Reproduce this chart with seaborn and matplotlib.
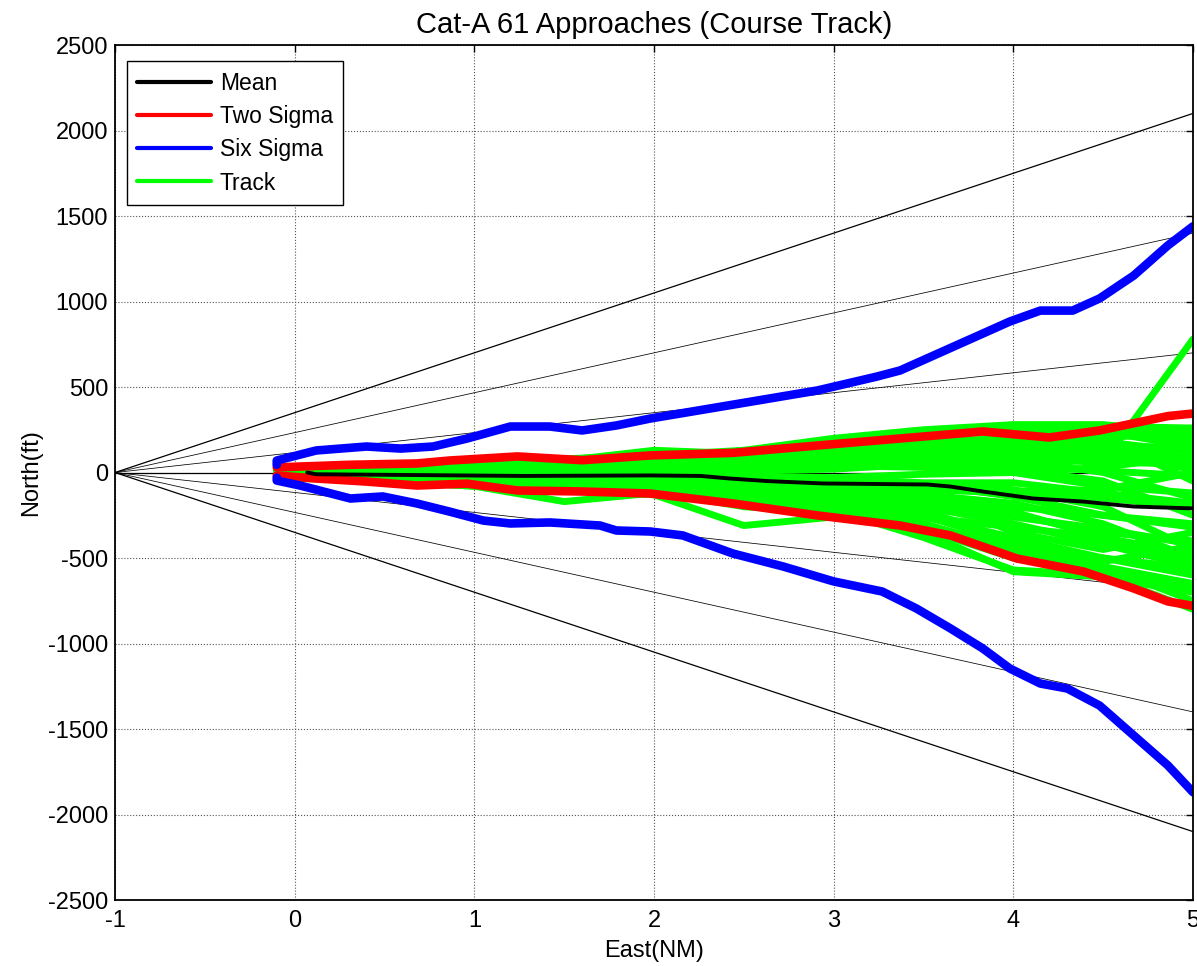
import numpy as np
import pandas as pd
import matplotlib
matplotlib.use("Agg")
import matplotlib.pyplot as plt
from matplotlib.lines import Line2D
import seaborn as sns

# --- data ---
fan_ends = [2100, 1400, 700, 0, -700, -1400, -2100]   # North(ft) at East=5, all from (-1, 0)

mean_x = [0.07, 0.12, 1.27, 1.98, 2.26, 2.42, 2.63, 2.94, 3.52, 3.65, 3.83, 4.11, 4.39, 4.67, 5.0]
mean_y = [0, -10, -20, -17, -20, -35, -50, -64, -70, -82, -111, -152, -170, -199, -210]

two_up_x = [-0.1, 0.3, 0.68, 0.86, 1.24, 1.6, 1.98, 2.44, 2.91, 3.37, 3.83, 4.2, 4.48, 4.86, 5.0]
two_up_y = [30, 45, 53, 70, 94, 72, 100, 115, 158, 199, 240, 205, 246, 330, 345]
two_lo_x = [-0.1, 0.12, 0.40, 0.68, 0.96, 1.24, 1.6, 1.98, 2.44, 2.91, 3.37, 3.65, 4.02, 4.39, 4.67, 4.86, 5.0]
two_lo_y = [-18, -35, -53, -76, -65, -105, -111, -123, -181, -251, -310, -368, -503, -579, -678, -754, -780]

six_up_x = [-0.1, -0.1, 0.12, 0.40, 0.59, 0.77, 0.96, 1.20, 1.42, 1.60, 1.79, 1.98, 2.48, 2.91, 3.24, 3.37,
            3.98, 4.15, 4.33, 4.48, 4.67, 4.86, 5.0]
six_up_y = [45, 70, 129, 152, 140, 152, 199, 269, 269, 246, 275, 316, 404, 480, 561, 597,
            883, 947, 947, 1018, 1152, 1328, 1440]
six_lo_x = [-0.1, -0.1, 0.03, 0.31, 0.49, 0.68, 0.86, 1.05, 1.20, 1.42, 1.70, 1.79, 1.98, 2.16, 2.44, 2.72,
            3.0, 3.27, 3.46, 3.65, 3.83, 3.98, 4.15, 4.30, 4.48, 4.67, 4.86, 5.0]
six_lo_y = [-30, -47, -76, -152, -140, -181, -228, -281, -298, -292, -310, -339, -345, -368, -474, -550,
            -637, -696, -795, -912, -1029, -1146, -1234, -1263, -1363, -1538, -1713, -1870]

track_x = [-0.1, 0.5, 1.0, 1.5, 2.0, 2.5, 3.0, 3.5, 4.0, 4.5, 5.0]
tracks = [
    [20, 40, 60, 80, 100, 130, 200, 250, 280, 280, 230],
    [10, 30, 50, 70, 130, 110, 150, 220, 240, 250, 180],
    [0, 10, 20, 30, 40, 50, 60, 70, 80, 60, 780],
    [5, 20, 40, 60, 80, 100, 150, 180, 200, 220, 200],
    [0, 10, 20, 30, 50, 60, 80, 120, 160, 180, 120],
    [-5, 0, 10, 20, 30, 40, 60, 90, 100, 60, 50],
    [-10, -10, 0, 10, 20, 10, 20, 50, 40, 10, -20],
    [-15, -20, -20, -10, -10, -20, -30, -10, 0, 30, 100],
    [-20, -30, -40, -40, -50, -60, -80, -100, -120, -150, -200],
    [-25, -40, -50, -60, -80, -100, -130, -160, -200, -250, -300],
    [-30, -50, -80, -170, -120, -100, -120, -150, -250, -350, -400],
    [-20, -50, -80, -100, -130, -310, -260, -300, -450, -500, -600],
    [-10, -30, -60, -90, -120, -180, -240, -330, -500, -560, -650],
    [-15, -40, -70, -100, -110, -150, -220, -380, -570, -600, -800],
    [-5, -20, -40, -60, -80, -120, -200, -350, -580, -610, -700],
    [0, -10, -20, -40, -60, -100, -180, -300, -450, -550, -750],
    [10, 20, 30, 40, 60, 80, 100, 120, 80, 0, -150],
    [5, 10, 20, 20, 30, 40, 50, 40, 20, -50, -250],
    [-10, -20, -30, -50, -70, -90, -100, -130, -180, -300, -500],
    [0, 0, -10, -20, -30, -40, -50, -80, -100, -200, -450],
    [15, 30, 40, 50, 60, 80, 120, 150, 180, 150, 80],
    [-20, -30, -50, -70, -90, -110, -150, -200, -300, -420, -550],
    [-5, -10, -20, -30, -40, -60, -90, -120, -350, -450, -350],
    [10, 15, 20, 30, 40, 60, 80, 100, 140, 200, 250],
    [0, 5, 10, 0, -10, -30, -60, -90, -110, -100, 0],
    [-10, -20, -40, -60, -80, -100, -140, -220, -400, -550, -650],
    [20, 30, 40, 50, 60, 70, 90, 110, 130, 150, 150],
    [-25, -40, -60, -80, -100, -130, -180, -260, -320, -380, -480],
    [0, 20, 30, 50, 70, 90, 120, 160, 200, 240, 150],
    [10, 25, 35, 45, 55, 70, 110, 200, 260, 270, 260],
    [-5, -15, -25, -35, -45, -70, -110, -180, -260, -330, -420],
    [5, 5, 0, -5, -15, -30, -50, -70, -140, -250, -320],
    [-15, -25, -35, -45, -60, -80, -110, -140, -230, -380, -520],
    [0, -5, -10, -15, -20, -25, -35, -60, -60, -120, -180],
    [15, 25, 35, 40, 50, 60, 70, 80, 110, 120, 60],
    [-20, -35, -55, -75, -100, -160, -200, -260, -380, -500, -560],
    [-10, -25, -45, -65, -90, -140, -170, -250, -420, -520, -430],
    [5, 15, 25, 30, 35, 40, 40, 30, 0, -80, -120],
    [-5, 0, 5, 15, 25, 30, 45, 70, 60, 100, 20],
    [20, 35, 50, 60, 80, 100, 160, 230, 270, 200, -50],
    [-25, -45, -70, -90, -110, -200, -230, -320, -480, -580, -680],
]

x_ticks = [-1, 0, 1, 2, 3, 4, 5]
y_ticks = [-2500, -2000, -1500, -1000, -500, 0, 500, 1000, 1500, 2000, 2500]

# --- style ---
sns.set_style("white", rc={'text.color': 'black', 'axes.labelcolor': 'black',
                           'xtick.color': 'black', 'ytick.color': 'black'})
plt.rcParams['font.family'] = ['Liberation Sans', 'DejaVu Sans']
plt.rcParams['axes.unicode_minus'] = False

fig = plt.figure(figsize=(11.97, 9.66), dpi=100)
ax = fig.add_axes([0.0961, 0.0683, 0.9006, 0.8851])

# fan of reference lines
for yend in fan_ends:
    outer = abs(yend) == 2100 or yend == 0
    sns.lineplot(x=[-1, 5], y=[0, yend], ax=ax, color='black',
                 linewidth=0.9 if outer else 0.55, zorder=2)

# green tracks
df_tracks = pd.DataFrame([
    {'east': x, 'north': y, 'run': k}
    for k, tr in enumerate(tracks) for x, y in zip(track_x, tr)
])
sns.lineplot(data=df_tracks, x='east', y='north', units='run', estimator=None,
             sort=False, color='#00ff00', linewidth=5.0, ax=ax, zorder=3)

def curve(xs, ys, color, lw, z):
    d = pd.DataFrame({'east': xs, 'north': ys})
    sns.lineplot(data=d, x='east', y='north', sort=False, estimator=None,
                 color=color, linewidth=lw, ax=ax, zorder=z)

curve(two_up_x, two_up_y, '#ff0000', 6.2, 4)
curve(two_lo_x, two_lo_y, '#ff0000', 6.2, 4)
curve(six_up_x, six_up_y, '#0000ff', 6.2, 4)
curve(six_lo_x, six_lo_y, '#0000ff', 6.2, 4)
curve(mean_x, mean_y, 'black', 2.8, 5)

ax.set_xlim(-1, 5)
ax.set_ylim(-2500, 2500)
ax.set_xticks(x_ticks)
ax.set_yticks(y_ticks)
ax.tick_params(labelsize=17, direction='in', length=5, width=1,
               top=True, right=True, color='black', labelcolor='black', pad=5)
ax.tick_params(axis='x', pad=7)
ax.grid(True, linestyle=':', color='#555555', linewidth=0.8)
for s in ax.spines.values():
    s.set_color('black')
    s.set_linewidth(1.3)
    s.set_zorder(6)

ax.set_xlabel('East(NM)', fontsize=17, labelpad=6)
ax.set_ylabel('North(ft)', fontsize=17, labelpad=4)
ax.set_title('Cat-A 61 Approaches (Course Track)', fontsize=21, pad=9)

handles = [Line2D([], [], color='black', lw=3),
           Line2D([], [], color='#ff0000', lw=3),
           Line2D([], [], color='#0000ff', lw=3),
           Line2D([], [], color='#00ff00', lw=3)]
leg = ax.legend(handles, ['Mean', 'Two Sigma', 'Six Sigma', 'Track'],
                loc='upper left', bbox_to_anchor=(0.011, 0.981), fontsize=16.5,
                frameon=True, fancybox=False, edgecolor='black', framealpha=1,
                handlelength=3.2, handletextpad=0.4, labelspacing=0.45,
                borderpad=0.45, borderaxespad=0)
leg.get_frame().set_linewidth(1.0)
leg.set_zorder(10)

fig.savefig('out.png', dpi=100)
